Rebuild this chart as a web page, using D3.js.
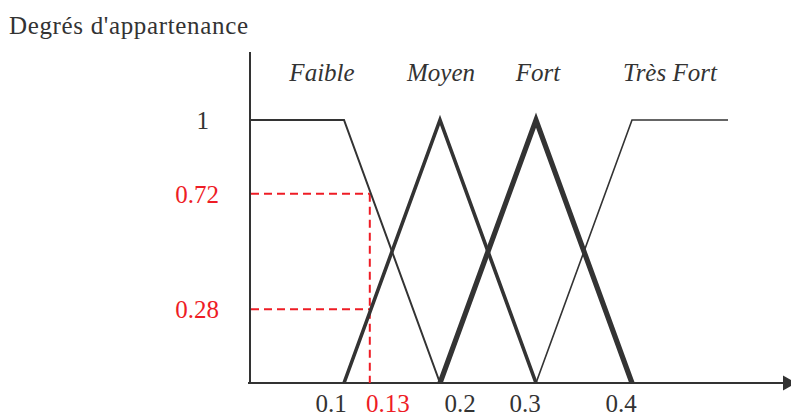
<!DOCTYPE html>
<html>
<head>
<meta charset="utf-8">
<script src="https://cdn.jsdelivr.net/npm/d3@7"></script>
<style>
  html, body { margin: 0; padding: 0; background: #fff; }
  svg { display: block; }
  text { font-family: "Liberation Serif", "Times New Roman", serif; }
</style>
</head>
<body>
<svg id="chart" width="791" height="417"></svg>
<script>
// ---- Data ----
const categories = ["Faible", "Moyen", "Fort", "Très Fort"];
const faibleX = [0, 0.1, 0.2];
const faibleY = [1, 1, 0];
const moyenX = [0.1, 0.2, 0.3];
const moyenY = [0, 1, 0];
const fortX = [0.2, 0.3, 0.4];
const fortY = [0, 1, 0];
const tresFortX = [0.3, 0.4, 0.5];
const tresFortY = [0, 1, 1];
const xTickValues = [0.1, 0.13, 0.2, 0.3, 0.4];
const xTickLabels = ["0.1", "0.13", "0.2", "0.3", "0.4"];
const inputValue = 0.13;
const degreeValues = [0.72, 0.28];
const degreeLabels = ["0.72", "0.28"];
const yAxisTitle = "Degrés d'appartenance";

// ---- Layout / style (not data) ----
const W = 791, H = 417;
const dark = "#333333";
const red = "#ee1c25";
const x = d3.scaleLinear().domain([0, 0.5]).range([248, 728]);
const y = d3.scaleLinear().domain([0, 1]).range([383, 120]);
const seriesStyle = [
  { w: 2.0 }, { w: 3.6 }, { w: 5.2 }, { w: 1.6 }
];
const catLabelX = [322, 441, 538, 670];   // label centers in px
const tickLabelDx = [-13, 15, 20, -11, -11];

const svg = d3.select("#chart");

// Title
svg.append("text").attr("x", 9).attr("y", 34)
  .attr("font-size", 25).attr("fill", dark)
  .attr("textLength", 239).attr("lengthAdjust", "spacing")
  .text(yAxisTitle);

// Axes
const axisX0 = 250;
svg.append("line")
  .attr("x1", axisX0).attr("x2", axisX0)
  .attr("y1", 52).attr("y2", y(0))
  .attr("stroke", dark).attr("stroke-width", 2);
svg.append("line")
  .attr("x1", 248).attr("x2", 785)
  .attr("y1", y(0)).attr("y2", y(0))
  .attr("stroke", dark).attr("stroke-width", 2);
svg.append("path")
  .attr("d", d3.line()([[783, y(0) - 7.5], [796, y(0)], [783, y(0) + 7.5]]) + "Z")
  .attr("fill", dark);

// Dashed red guides
const dash = "8,5";
degreeValues.forEach(v => {
  svg.append("line")
    .attr("x1", axisX0 + 1).attr("x2", x(inputValue) - 3)
    .attr("y1", y(v)).attr("y2", y(v))
    .attr("stroke", red).attr("stroke-width", 2)
    .attr("stroke-dasharray", dash);
});
svg.append("line")
  .attr("x1", x(inputValue) - 3).attr("x2", x(inputValue) - 3)
  .attr("y1", y(d3.max(degreeValues))).attr("y2", y(0))
  .attr("stroke", red).attr("stroke-width", 2)
  .attr("stroke-dasharray", dash);

// Membership functions
const series = [
  { xs: faibleX, ys: faibleY },
  { xs: moyenX, ys: moyenY },
  { xs: fortX, ys: fortY },
  { xs: tresFortX, ys: tresFortY }
];
const line = d3.line().x(d => x(d[0])).y(d => y(d[1]));
series.forEach((s, i) => {
  const pts = s.xs.map((v, k) => [v, s.ys[k]]);
  if (i === 0) pts[0][0] = x.invert(axisX0);
  svg.append("path")
    .attr("d", line(pts))
    .attr("fill", "none")
    .attr("stroke", dark)
    .attr("stroke-width", seriesStyle[i].w)
    .attr("stroke-linejoin", "miter");
});

// Category labels
categories.forEach((c, i) => {
  svg.append("text")
    .attr("x", catLabelX[i]).attr("y", 81)
    .attr("text-anchor", "middle")
    .attr("font-size", 25).attr("font-style", "italic")
    .attr("fill", dark)
    .text(c);
});

// Y labels
svg.append("text").attr("x", 209).attr("y", y(1) + 9)
  .attr("text-anchor", "end").attr("font-size", 25).attr("fill", dark)
  .text("1");
degreeValues.forEach((v, i) => {
  svg.append("text").attr("x", 219).attr("y", y(v) + 9)
    .attr("text-anchor", "end").attr("font-size", 25).attr("fill", red)
    .text(degreeLabels[i]);
});

// X tick labels
xTickValues.forEach((v, i) => {
  svg.append("text")
    .attr("x", x(v) + tickLabelDx[i]).attr("y", 412)
    .attr("text-anchor", "middle").attr("font-size", 25)
    .attr("fill", v === inputValue ? red : dark)
    .text(xTickLabels[i]);
});
</script>
</body>
</html>
